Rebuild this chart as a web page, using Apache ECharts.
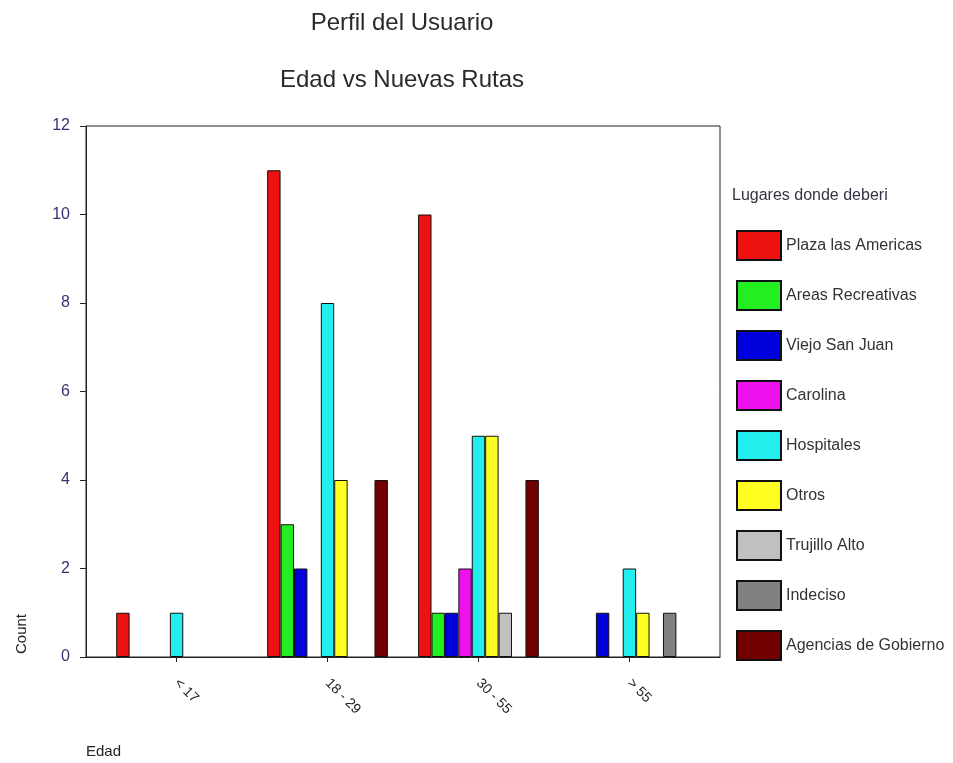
<!DOCTYPE html>
<html>
<head>
<meta charset="utf-8">
<script src="https://cdn.jsdelivr.net/npm/echarts@6/dist/echarts.min.js"></script>
<style>
  html, body { margin: 0; padding: 0; background: #ffffff; }
  #chart { width: 953px; height: 763px; }
</style>
</head>
<body>
<div id="chart"></div>
<script>
// Age groups shown along the horizontal axis
const categories = ['< 17', '18 - 29', '30 - 55', '> 55'];

// Counts per place, one value per age group
const plazaLasAmericas   = [1, 11, 10, 0];
const areasRecreativas   = [0, 3, 1, 0];
const viejoSanJuan       = [0, 2, 1, 1];
const carolina           = [0, 0, 2, 0];
const hospitales         = [1, 8, 5, 2];
const otros              = [0, 4, 5, 1];
const trujilloAlto       = [0, 0, 1, 0];
const indeciso           = [0, 0, 0, 1];
const agenciasDeGobierno = [0, 4, 4, 0];

const yTicks = [0, 2, 4, 6, 8, 10, 12];

const seriesDefs = [
  { name: 'Plaza las Americas',   values: plazaLasAmericas,   color: '#ee1111' },
  { name: 'Areas Recreativas',    values: areasRecreativas,   color: '#22ee22' },
  { name: 'Viejo San Juan',       values: viejoSanJuan,       color: '#0000dd' },
  { name: 'Carolina',             values: carolina,           color: '#ee11ee' },
  { name: 'Hospitales',           values: hospitales,         color: '#22eeee' },
  { name: 'Otros',                values: otros,              color: '#ffff22' },
  { name: 'Trujillo Alto',        values: trujilloAlto,       color: '#c0c0c0' },
  { name: 'Indeciso',             values: indeciso,           color: '#808080' },
  { name: 'Agencias de Gobierno', values: agenciasDeGobierno, color: '#730000' }
];

const font = 'Liberation Sans, Arial, sans-serif';
const catIndex = categories.map((c, i) => i);

const chart = echarts.init(document.getElementById('chart'), null, { renderer: 'canvas' });

chart.setOption({
  animation: false,
  backgroundColor: '#ffffff',
  title: [
    {
      text: 'Perfil del Usuario',
      left: 397, top: 6, textAlign: 'center',
      textStyle: { fontFamily: font, fontSize: 24, fontWeight: 'normal', color: '#2a2a2a' }
    },
    {
      text: 'Edad vs Nuevas Rutas',
      left: 397, top: 63, textAlign: 'center',
      textStyle: { fontFamily: font, fontSize: 24, fontWeight: 'normal', color: '#2a2a2a' }
    },
    {
      text: 'Lugares donde deberi',
      left: 727, top: 183,
      textStyle: { fontFamily: font, fontSize: 16, fontWeight: 'normal', color: '#333344' }
    }
  ],
  legend: {
    orient: 'vertical',
    left: 731, top: 225,
    itemWidth: 44, itemHeight: 29, itemGap: 19,
    icon: 'rect',
    textStyle: { fontFamily: font, fontSize: 16, color: '#333333' },
    data: seriesDefs.map(s => s.name)
  },
  graphic: [
    {
      type: 'text', x: 22, y: 634, rotation: Math.PI / 2,
      style: { text: 'Count', fontFamily: font, fontSize: 15, fill: '#222222',
               textAlign: 'center', textVerticalAlign: 'middle' }
    },
    {
      type: 'text', x: 86, y: 752,
      style: { text: 'Edad', fontFamily: font, fontSize: 15, fill: '#222222',
               textAlign: 'left', textVerticalAlign: 'middle' }
    }
  ],
  grid: {
    left: 86, right: 233, top: 126, bottom: 106,
    show: true, borderColor: '#222222', borderWidth: 1, backgroundColor: 'transparent'
  },
  xAxis: {
    type: 'value',
    min: -0.6, max: 3.6,
    splitLine: { show: false },
    axisLine: { show: true, onZero: false, lineStyle: { color: '#222222', width: 1 } },
    axisTick: { show: true, length: 5, customValues: catIndex, lineStyle: { color: '#222222' } },
    axisLabel: {
      customValues: catIndex,
      rotate: -45, margin: 24,
      fontFamily: font, fontSize: 14, color: '#222222',
      formatter: v => categories[Math.round(v)]
    }
  },
  yAxis: {
    type: 'value',
    min: 0, max: 12, interval: 2,
    splitLine: { show: false },
    axisLine: { show: true, onZero: false, lineStyle: { color: '#222222', width: 1 } },
    axisTick: { show: true, length: 6, lineStyle: { color: '#222222' } },
    axisLabel: {
      margin: 16, fontFamily: font, fontSize: 16, color: '#3d2e72',
      customValues: yTicks
    }
  },
  series: seriesDefs.map(s => ({
    name: s.name,
    type: 'bar',
    barGap: '0%',
    barCategoryGap: '20%',
    itemStyle: { color: s.color, borderColor: '#111111', borderWidth: 1 },
    data: s.values.map((v, i) => (v === 0 ? [i, null] : [i, v]))
  }))
});
</script>
</body>
</html>
